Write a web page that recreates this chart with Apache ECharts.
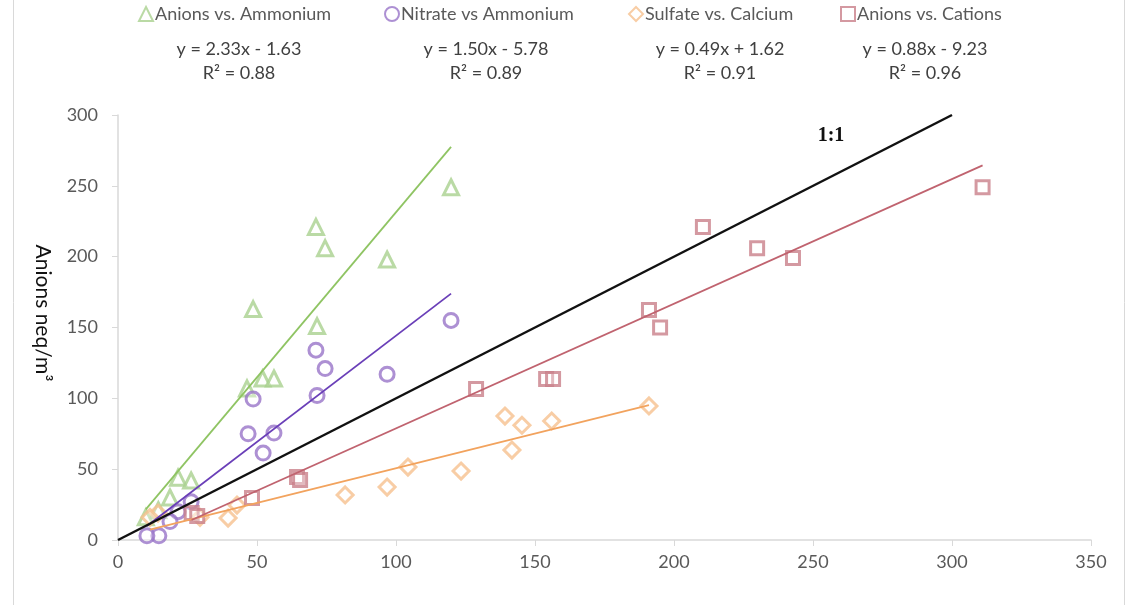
<!DOCTYPE html>
<html><head><meta charset="utf-8">
<script src="https://cdn.jsdelivr.net/npm/echarts@6/dist/echarts.min.js"></script>
<style>html,body{margin:0;padding:0;background:#fff}#c{width:1129px;height:605px}</style>
</head><body><div id="c"></div>
<script>
// Anions vs. Ammonium: [ammonium, anions]
var anionsAmmonium = [[119.8,249],[71.2,221],[74.5,206],[96.8,198],[48.6,163],[71.6,151],[46.4,107],[52.0,114],[56.1,114],[21.6,44],[26.3,42],[18.7,30],[14.5,21],[10.0,16]];
// Nitrate vs Ammonium: [ammonium, nitrate]
var nitrateAmmonium = [[119.8,155],[71.2,134],[74.5,121],[96.8,117],[48.6,99.5],[71.6,102],[46.8,75],[52.2,61.4],[56.1,75.5],[21.6,20],[26.3,27],[18.7,13],[14.7,3],[10.4,3]];
// Sulfate vs. Calcium: [calcium, sulfate]
var sulfateCalcium = [[191,94.6],[139.2,87.5],[145.3,81],[156,84],[141.7,63.5],[123.4,48.7],[104.3,51.5],[96.8,37.4],[81.7,31.8],[39.6,15.5],[42.8,24.7],[29.5,16],[14.4,19],[11.5,16]];
// Anions vs. Cations: [cations, anions]
var anionsCations = [[311,249],[210.4,221],[229.9,206],[242.8,199],[191,162.4],[195,150],[128.8,106.6],[154,113.6],[156.5,113.6],[64.4,44.5],[65.5,42.3],[48.2,29.6],[26.5,19],[28.5,17]];
var seriesNames = ['Anions vs. Ammonium','Nitrate vs Ammonium','Sulfate vs. Calcium','Anions vs. Cations'];
var slopes = [2.33, 1.50, 0.49, 0.88];
var intercepts = [-1.63, -5.78, 1.62, -9.23];
var r2 = [0.88, 0.89, 0.91, 0.96];
var oneToOne = [[0,0],[300,300]];
var xTicks = [0,50,100,150,200,250,300,350];
var yTicks = [0,50,100,150,200,250,300];

var datasets = [anionsAmmonium, nitrateAmmonium, sulfateCalcium, anionsCations];
var symbols = ['triangle','circle','diamond','rect'];
var markerColors = ['#a9d18e','#9874c8','#f6c08e','#c9808a'];
var lineColors = ['#8fc463','#6a3fb8','#f2a35e','#c0636f'];
var symSizes = [15,14,16,13];

function trend(i){
  var xs = datasets[i].map(function(p){return p[0];});
  var mn = Math.min.apply(null,xs), mx = Math.max.apply(null,xs);
  return [[mn, slopes[i]*mn+intercepts[i]],[mx, slopes[i]*mx+intercepts[i]]];
}
function fmtEq(i){
  var b = intercepts[i];
  return 'y = ' + slopes[i].toFixed(2) + 'x ' + (b<0?'- ':'+ ') + Math.abs(b).toFixed(2);
}

var series = [];
for (var i=0;i<4;i++){
  series.push({
    name: seriesNames[i], type:'scatter', data: datasets[i], symbol: symbols[i], symbolSize: symSizes[i],
    itemStyle:{color:'rgba(255,255,255,0.4)', borderColor: markerColors[i], borderWidth:3}, z:2
  });
}
for (var j=0;j<4;j++){
  series.push({
    name:'trend'+j, type:'line', data: trend(j), symbol:'none', silent:true,
    lineStyle:{color: lineColors[j], width:1.8}, z:3
  });
}
series.push({name:'1:1', type:'line', data: oneToOne, symbol:'none', lineStyle:{color:'#111', width:2.5}, z:4});

var eqX = [239, 486, 720, 925];
var legendLeft = [133, 379, 623, 835];
var graphics = [
  {type:'rect', shape:{x:13.5,y:-2,width:1111,height:610}, style:{fill:'none', stroke:'#d9d9d9', lineWidth:1}, silent:true},
  {type:'text', x:43, y:313, rotation:-Math.PI/2, style:{text:'Anions neq/m³', font:'21px Lato', fill:'#111', align:'center', verticalAlign:'middle'}},
  {type:'text', x:831, y:136, style:{text:'1:1', font:'bold 20px "Liberation Serif"', fill:'#111', align:'center', verticalAlign:'middle'}}
];
for (var k=0;k<4;k++){
  graphics.push({type:'text', x:eqX[k], y:49, style:{text: fmtEq(k), font:'18px Lato', fill:'#404040', align:'center', verticalAlign:'middle'}});
  graphics.push({type:'text', x:eqX[k], y:73, style:{text: 'R² = ' + r2[k].toFixed(2), font:'18px Lato', fill:'#404040', align:'center', verticalAlign:'middle'}});
}
var legends = [];
for (var m=0;m<4;m++){
  legends.push({data:[seriesNames[m]], left:legendLeft[m], top:0, itemWidth:14, itemHeight:14, itemGap:0,
    textStyle:{color:'#595959', fontSize:18, fontFamily:'Lato', padding:[0,0,0,-3]}});
}

var chart = echarts.init(document.getElementById('c'));
chart.setOption({
  animation:false,
  textStyle:{fontFamily:'Lato'},
  grid:{left:118, right:38, top:115, bottom:65, containLabel:false},
  legend: legends,
  xAxis:{type:'value', min:0, max:350, interval:50,
    axisLine:{lineStyle:{color:'#d9d9d9', width:1.5}}, axisTick:{show:true, length:6, lineStyle:{color:'#d9d9d9'}},
    axisLabel:{color:'#595959', fontSize:18, margin:13}, splitLine:{show:false}},
  yAxis:{type:'value', min:0, max:300, interval:50,
    axisLine:{show:true, lineStyle:{color:'#d9d9d9', width:1.5}}, axisTick:{show:true, length:6, lineStyle:{color:'#d9d9d9'}},
    axisLabel:{color:'#595959', fontSize:18, margin:20}, splitLine:{show:false}},
  graphic: graphics,
  series: series
});
</script></body></html>
